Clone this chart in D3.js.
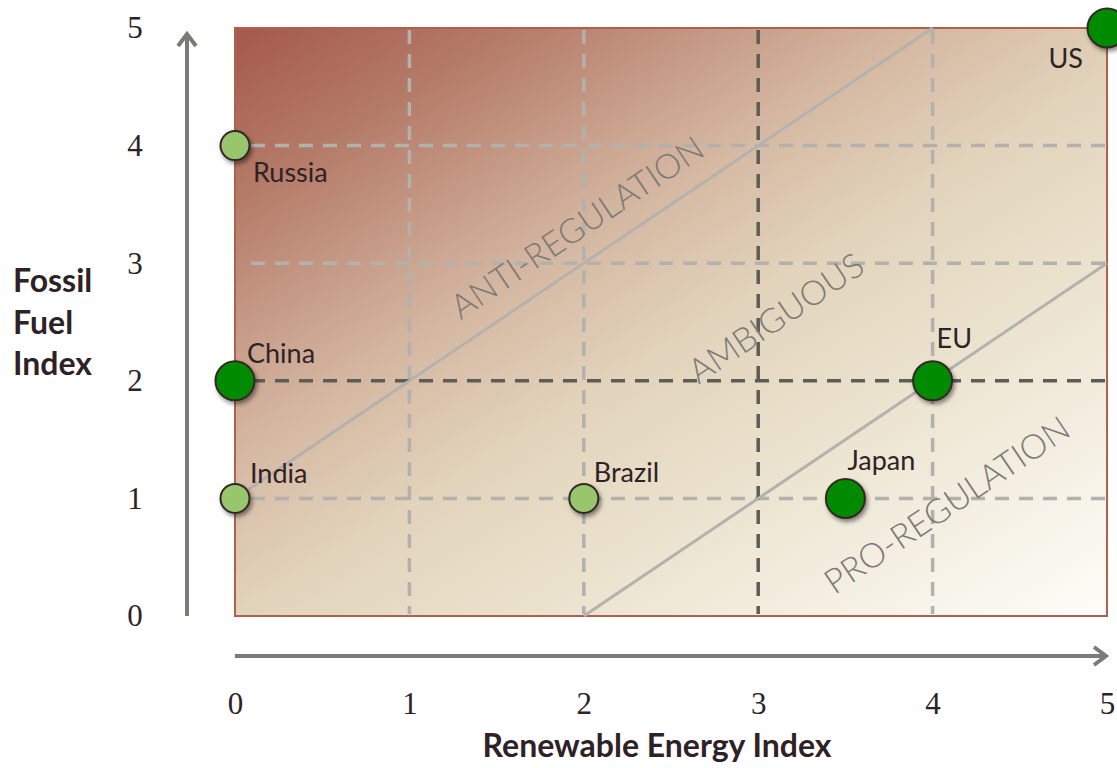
<!DOCTYPE html>
<html>
<head>
<meta charset="utf-8">
<script src="https://cdn.jsdelivr.net/npm/d3@7/dist/d3.min.js"></script>
<style>
  html, body { margin: 0; padding: 0; background: #fff; }
  svg { display: block; }
</style>
</head>
<body>
<script>
// Countries placed by renewable energy index (x) and fossil fuel index (y)
const countries = ["Russia", "China", "India", "Brazil", "Japan", "EU", "US"];
const renewableIndex = [0, 0, 0, 2, 3.5, 4, 5];
const fossilIndex = [4, 2, 1, 1, 1, 2, 5];
const isMajor = [false, true, false, false, true, true, true];

const xTicks = [0, 1, 2, 3, 4, 5];
const yTicks = [0, 1, 2, 3, 4, 5];
// Gridlines drawn darker through the middle of the map
const xMidLine = 3;
const yMidLine = 2;

// Boundary lines separating the regions (x0, y0, x1, y1 in index units)
const antiLine = [0, 1, 4, 5];
const proLine = [2, 0, 5, 3];
const regionNames = ["ANTI-REGULATION", "AMBIGUOUS", "PRO-REGULATION"];
const regionAnchors = [[2.0, 3.22], [3.14, 2.45], [4.12, 0.86]];

const W = 1117, H = 768;
const svg = d3.select("body").append("svg").attr("width", W).attr("height", H);

const x = d3.scaleLinear().domain([0, 5]).range([235, 1107]);
const y = d3.scaleLinear().domain([0, 5]).range([616, 28]);

const defs = svg.append("defs");
const grad = defs.append("linearGradient")
  .attr("id", "bgGrad")
  .attr("gradientUnits", "userSpaceOnUse")
  .attr("x1", x(0)).attr("y1", y(5))
  .attr("x2", 740).attr("y2", 843);
[[0, "#a5594a"], [0.15, "#b47a68"], [0.37, "#d4b6a0"], [0.52, "#e2d3bb"], [0.7, "#ece4d0"], [1, "#fefdf9"]]
  .forEach(([o, c]) => grad.append("stop").attr("offset", o).attr("stop-color", c));

const shadow = defs.append("filter").attr("id", "dotShadow")
  .attr("x", "-50%").attr("y", "-50%").attr("width", "200%").attr("height", "200%");
shadow.append("feDropShadow").attr("dx", 2).attr("dy", 3)
  .attr("stdDeviation", 2).attr("flood-color", "#000").attr("flood-opacity", 0.45);

// Plot background
svg.append("rect")
  .attr("x", x(0)).attr("y", y(5))
  .attr("width", x(5) - x(0)).attr("height", y(0) - y(5))
  .attr("fill", "url(#bgGrad)")
  .attr("stroke", "#b0604f").attr("stroke-width", 2);

// Dashed gridlines
const lightGrid = "#b3b1ad", darkGrid = "#5d5d58";
const grid = svg.append("g");
grid.selectAll(".vgrid").data(xTicks.filter(d => d > 0 && d < 5)).join("line")
  .attr("x1", d => x(d)).attr("x2", d => x(d))
  .attr("y1", y(5) + 2).attr("y2", y(0) - 2)
  .attr("stroke", d => d === xMidLine ? darkGrid : lightGrid)
  .attr("stroke-width", 3.5).attr("stroke-dasharray", "14 10");
grid.selectAll(".hgrid").data(yTicks.filter(d => d > 0 && d < 5)).join("line")
  .attr("x1", x(0) + 16).attr("x2", x(5) - 2)
  .attr("y1", d => y(d)).attr("y2", d => y(d))
  .attr("stroke", d => d === yMidLine ? darkGrid : lightGrid)
  .attr("stroke-width", 3.5).attr("stroke-dasharray", "14 10");
grid.selectAll("line").sort((a, b) => (a === xMidLine || a === yMidLine) - (b === xMidLine || b === yMidLine));

// Region boundaries
svg.selectAll(".boundary").data([antiLine, proLine]).join("line")
  .attr("x1", d => x(d[0])).attr("y1", d => y(d[1]))
  .attr("x2", d => x(d[2])).attr("y2", d => y(d[3]))
  .attr("stroke", "#b4b2ae").attr("stroke-width", 3);

// Region names along the slope of the boundaries
const angle = -Math.atan2(y(0) - y(1), x(1) - x(0)) * 180 / Math.PI;
svg.selectAll(".region").data(regionNames).join("text")
  .attr("transform", (d, i) => `translate(${x(regionAnchors[i][0])},${y(regionAnchors[i][1])}) rotate(${angle})`)
  .attr("text-anchor", "middle")
  .attr("font-family", "Lato, 'Open Sans', sans-serif")
  .attr("font-weight", 300)
  .attr("font-size", 34)
  .attr("fill", "#7b7a77")
  .text(d => d);

// Country points
const data = countries.map((c, i) => ({ name: c, rx: renewableIndex[i], fy: fossilIndex[i], major: isMajor[i] }));
svg.selectAll(".dot").data(data).join("circle")
  .attr("cx", d => x(d.rx)).attr("cy", d => y(d.fy))
  .attr("r", d => d.major ? 19.5 : 14.5)
  .attr("fill", d => d.major ? "#008a00" : "#97c66d")
  .attr("stroke", "#352628").attr("stroke-width", 2)
  .attr("filter", "url(#dotShadow)");

// Country labels
const labelOffset = {
  Russia: [18, 36, "start"], China: [12, -18, "start"], India: [15, -15, "start"],
  Brazil: [10, -16, "start"], Japan: [2, -28, "start"], EU: [4, -33, "start"], US: [-24, 40, "end"]
};
svg.selectAll(".label").data(data).join("text")
  .attr("x", d => x(d.rx) + labelOffset[d.name][0])
  .attr("y", d => y(d.fy) + labelOffset[d.name][1])
  .attr("text-anchor", d => labelOffset[d.name][2])
  .attr("font-family", "Lato, 'Open Sans', sans-serif")
  .attr("font-size", 27)
  .attr("fill", "#2e2226")
  .text(d => d.name);

// Axis arrows
const arrowColor = "#7a7a76";
const arrows = svg.append("g").attr("stroke", arrowColor).attr("stroke-width", 4).attr("fill", "none");
arrows.append("line").attr("x1", 187).attr("y1", y(0)).attr("x2", 187).attr("y2", 34);
arrows.append("path").attr("d", "M178,46 L187,34 L196,46").attr("stroke-linejoin", "miter");
arrows.append("line").attr("x1", x(0)).attr("y1", 656).attr("x2", x(5) - 1).attr("y2", 656);
arrows.append("path").attr("d", `M${x(5) - 13},647 L${x(5) - 1},656 L${x(5) - 13},665`);

// Tick labels drawn with D3 axes (no lines)
const tickFont = "'Liberation Serif', 'DejaVu Serif', serif";
const yAxis = svg.append("g").attr("transform", "translate(135,0)")
  .call(d3.axisLeft(y).tickValues(yTicks).tickSize(0).tickPadding(0).tickFormat(d3.format("d")));
yAxis.select(".domain").remove();
yAxis.selectAll("text").attr("text-anchor", "middle").attr("dy", "0.32em")
  .attr("font-family", tickFont).attr("font-size", 31).attr("fill", "#2e2226");

const xAxis = svg.append("g").attr("transform", "translate(0,692)")
  .call(d3.axisBottom(x).tickValues(xTicks).tickSize(0).tickPadding(0).tickFormat(d3.format("d")));
xAxis.select(".domain").remove();
xAxis.selectAll("text").attr("dy", "0.71em")
  .attr("font-family", tickFont).attr("font-size", 31).attr("fill", "#2e2226");

// Axis titles
const titleFont = "Lato, 'Open Sans', sans-serif";
const yTitle = svg.append("text")
  .attr("x", 13).attr("font-family", titleFont).attr("font-weight", 700)
  .attr("font-size", 32).attr("fill", "#2e2226");
["Fossil", "Fuel", "Index"].forEach((t, i) =>
  yTitle.append("tspan").attr("x", 13).attr("y", 292 + i * 41.5).text(t));

svg.append("text")
  .attr("x", 657).attr("y", 757).attr("text-anchor", "middle")
  .attr("font-family", titleFont).attr("font-weight", 700)
  .attr("font-size", 32).attr("fill", "#2e2226")
  .text("Renewable Energy Index");
</script>
</body>
</html>
